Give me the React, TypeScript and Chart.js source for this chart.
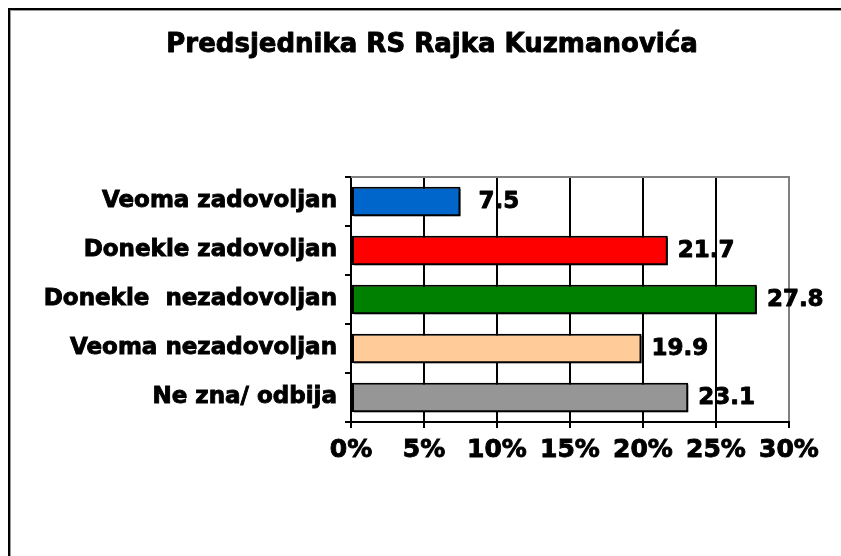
import React, { useEffect, useRef } from "react";
import { Chart, registerables } from "chart.js";

Chart.register(...registerables);

const TITLE = "Predsjednika RS Rajka Kuzmanovića";
const CATEGORIES = [
  "Veoma zadovoljan",
  "Donekle zadovoljan",
  "Donekle  nezadovoljan",
  "Veoma nezadovoljan",
  "Ne zna/ odbija",
];
const VALUES = [7.5, 21.7, 27.8, 19.9, 23.1];
const COLORS = ["#0066CC", "#FF0000", "#008000", "#FFCC99", "#969696"];
const X_MIN = 0;
const X_MAX = 30;
const X_STEP = 5;

const FONT = "'DejaVu Sans', Verdana, sans-serif";

function heavyText(ctx: CanvasRenderingContext2D, text: string, x: number, y: number) {
  ctx.lineWidth = 0.9;
  ctx.strokeStyle = ctx.fillStyle as string;
  ctx.lineJoin = "round";
  ctx.strokeText(text, x, y);
  ctx.fillText(text, x, y);
}

const decorPlugin = {
  id: "decor",
  beforeDraw(chart: any) {
    const { ctx, width, height } = chart;
    ctx.save();
    ctx.fillStyle = "#ffffff";
    ctx.fillRect(0, 0, width, height);
    // outer frame (top and left only visible)
    ctx.fillStyle = "#000000";
    ctx.fillRect(8, 8, width - 8, 2);
    ctx.fillRect(8, 8, 2, height - 8);
    ctx.fillStyle = "#9a9a9a";
    ctx.fillRect(10, 10, width - 10, 1);
    ctx.fillRect(10, 10, 1, height - 10);
    // title
    ctx.fillStyle = "#000000";
    ctx.font = `bold 26px ${FONT}`;
    ctx.textAlign = "center";
    ctx.textBaseline = "alphabetic";
    heavyText(ctx, TITLE, 432, 52);
    ctx.restore();
  },
  beforeDatasetsDraw(chart: any) {
    const { ctx, chartArea } = chart;
    ctx.save();
    ctx.strokeStyle = "#808080";
    ctx.lineWidth = 2;
    ctx.beginPath();
    ctx.moveTo(chartArea.left, chartArea.top);
    ctx.lineTo(chartArea.right + 1, chartArea.top);
    ctx.stroke();
    ctx.restore();
  },
  beforeDatasetDraw(chart: any) {
    const ctx = chart.ctx;
    ctx.save();
    ctx.shadowColor = "#000000";
    ctx.shadowOffsetX = 2;
    ctx.shadowOffsetY = 2;
    ctx.shadowBlur = 0;
  },
  afterDatasetDraw(chart: any) {
    chart.ctx.restore();
  },
  afterDatasetsDraw(chart: any, _args: any, opts: any) {
    const { ctx } = chart;
    const meta = chart.getDatasetMeta(0);
    const data = chart.data.datasets[0].data;
    const nudge: number[] = opts.nudge || [];
    ctx.save();
    ctx.fillStyle = "#000000";
    ctx.font = `bold 23px ${FONT}`;
    ctx.textAlign = "left";
    ctx.textBaseline = "middle";
    meta.data.forEach((bar: any, i: number) => {
      const v = data[i] as number;
      heavyText(ctx, v.toFixed(1), bar.x + 10 + (nudge[i] || 0), bar.y + 1);
    });
    ctx.restore();
  },
};

export default function App() {
  const ref = useRef<HTMLCanvasElement | null>(null);

  useEffect(() => {
    if (!ref.current) return;
    const chart = new Chart(ref.current, {
      type: "bar",
      data: {
        labels: CATEGORIES,
        datasets: [
          {
            data: VALUES,
            backgroundColor: COLORS,
            borderColor: "#000000",
            borderWidth: 2,
            borderSkipped: false,
            barPercentage: 0.6,
            categoryPercentage: 1,
          },
        ],
      },
      options: {
        indexAxis: "y",
        responsive: false,
        animation: false,
        devicePixelRatio: 1,
        layout: { padding: { top: 177, right: 52, bottom: 0, left: 0 } },
        plugins: {
          legend: { display: false },
          tooltip: { enabled: false },
          title: { display: false },
          decor: { nudge: [8, 0, 0, 0, 0] },
        } as any,
        scales: {
          x: {
            type: "linear",
            min: X_MIN,
            max: X_MAX,
            afterFit(scale: any) {
              scale.height = 134;
            },
            ticks: {
              stepSize: X_STEP,
              callback: (v: any) => `${v}%`,
              color: "#000000",
              textStrokeColor: "#000000",
              textStrokeWidth: 0.9,
              padding: 7,
              font: { family: FONT, weight: "bold", size: 25 },
            },
            grid: {
              color: (c: any) => (c.tick && c.tick.value === X_MAX ? "#808080" : "#000000"),
              lineWidth: 2,
              tickLength: 6,
              tickColor: "#000000",
              drawTicks: true,
            },
            border: { display: true, color: "#000000", width: 2 },
          },
          y: {
            type: "category",
            afterFit(scale: any) {
              scale.width = 351;
            },
            ticks: {
              color: "#000000",
              textStrokeColor: "#000000",
              textStrokeWidth: 0.9,
              padding: 8,
              font: { family: FONT, weight: "bold", size: 23 },
            },
            grid: {
              display: true,
              drawOnChartArea: false,
              drawTicks: true,
              tickLength: 6,
              color: "#000000",
              lineWidth: 2,
              offset: true,
            },
            border: { display: true, color: "#000000", width: 2 },
          },
        },
      } as any,
      plugins: [decorPlugin],
    });
    return () => chart.destroy();
  }, []);

  return (
    <div style={{ position: "fixed", left: 0, top: 0, width: 841, height: 556, background: "#fff" }}>
      <canvas ref={ref} width={841} height={556} style={{ display: "block", width: 841, height: 556 }} />
    </div>
  );
}
